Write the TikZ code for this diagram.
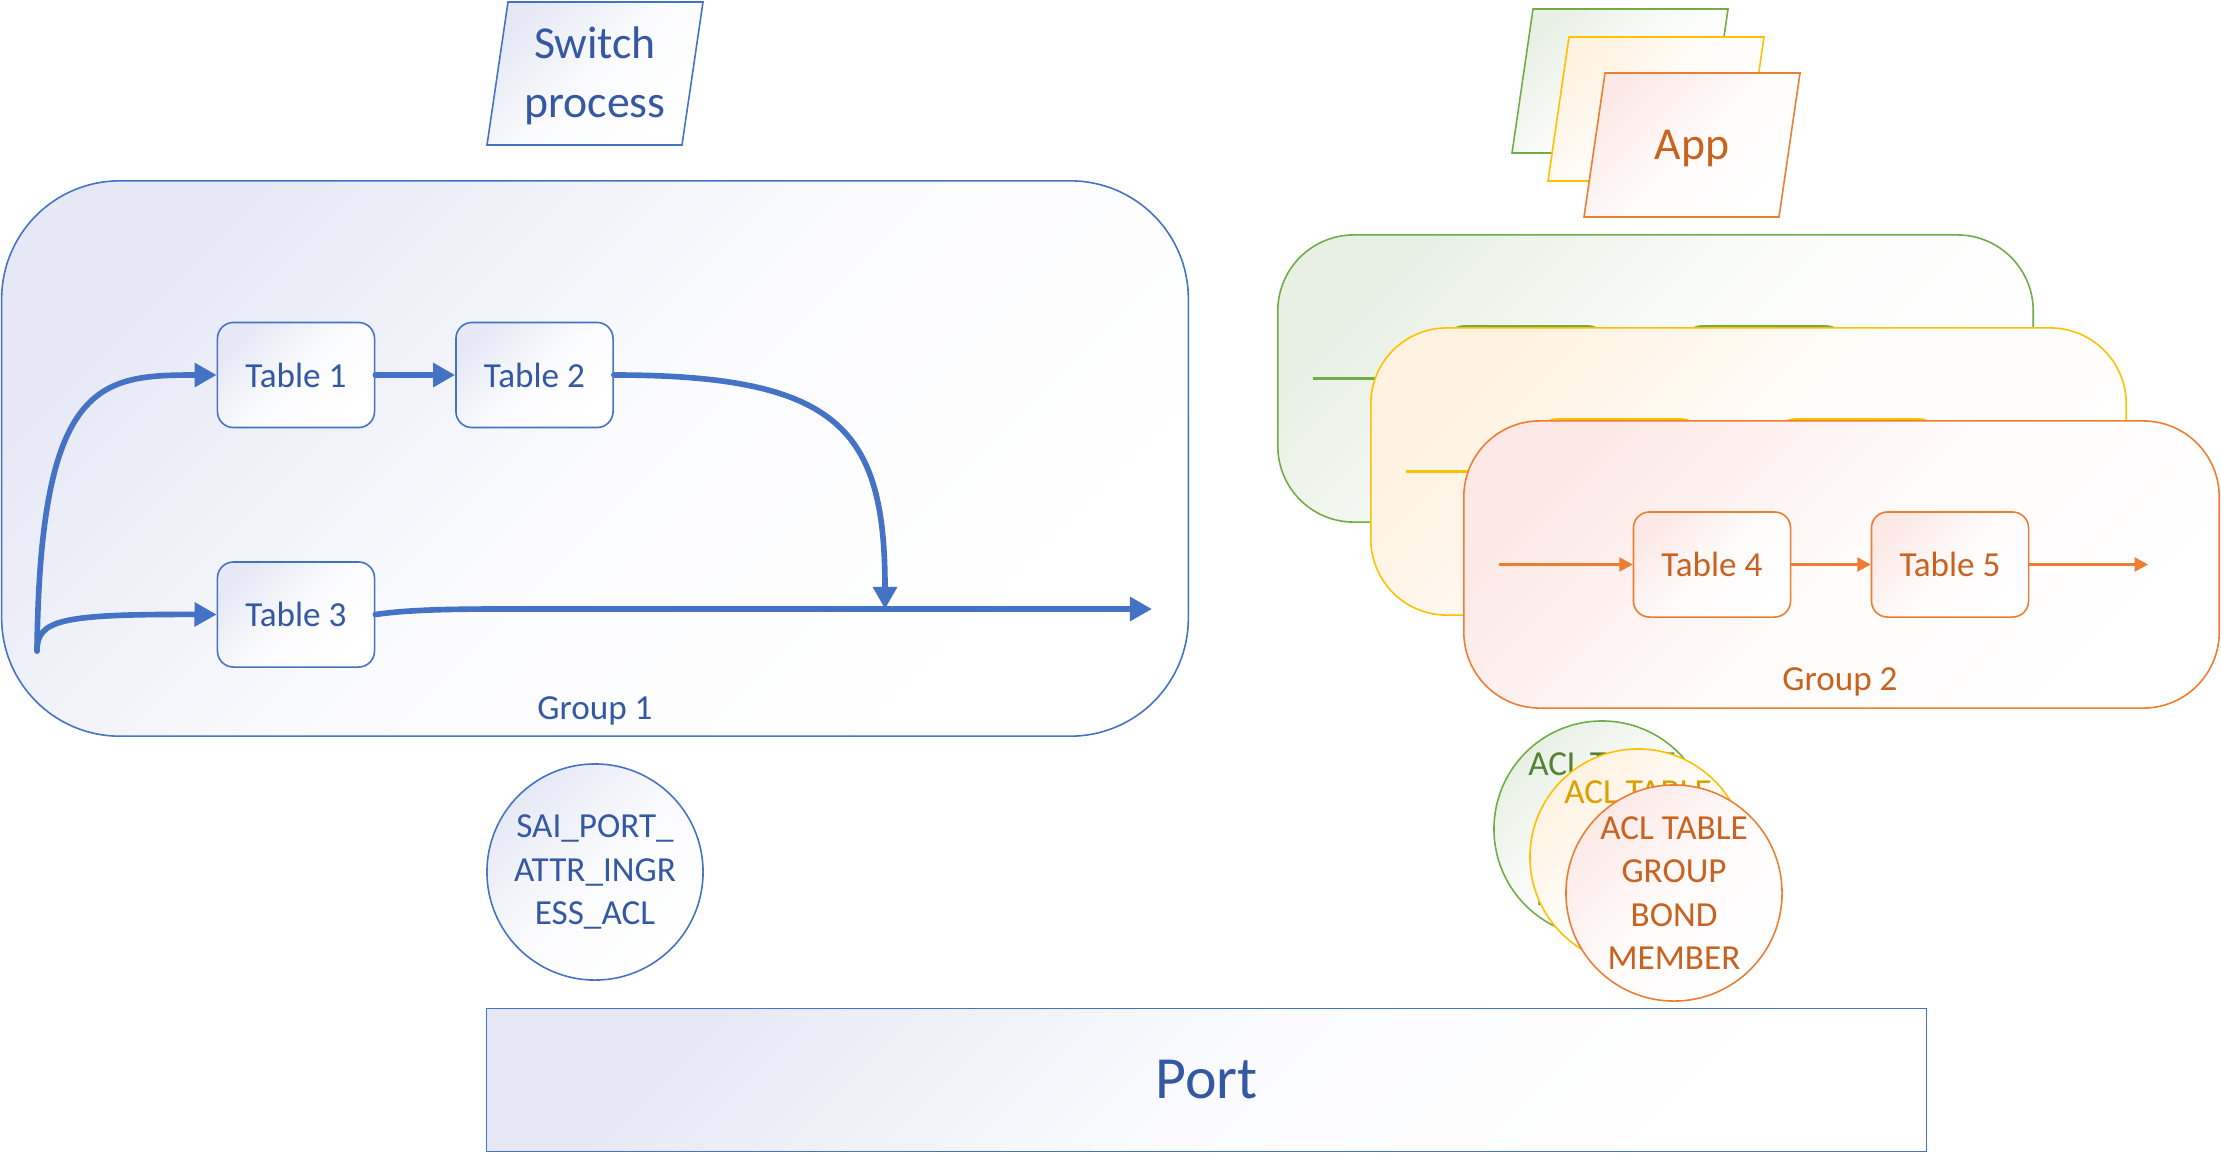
\documentclass[tikz,border=0pt]{standalone}
\usepackage{fontspec}
\setmainfont{Carlito}
\usepackage{tikz}
\usetikzlibrary{arrows.meta}

\definecolor{blueline}{HTML}{4472C4}
\definecolor{bluetext}{HTML}{3458A4}
\definecolor{bluetint}{HTML}{E6E9F5}
\definecolor{orangeline}{HTML}{ED7D31}
\definecolor{orangetext}{HTML}{C9621E}
\definecolor{orangetint}{HTML}{FCE9E6}
\definecolor{greenline}{HTML}{70AD47}
\definecolor{greentext}{HTML}{548235}
\definecolor{greentint}{HTML}{E8F0E4}
\definecolor{yellowline}{HTML}{FFC000}
\definecolor{yellowtext}{HTML}{D9A000}
\definecolor{yellowtint}{HTML}{FFF2E0}

\tikzset{tint/.style={top color=#1, bottom color=white, middle color=#1!18!white, shading angle=45}}
\tikzstyle{grp} = [draw, line width=0.45pt, inner sep=0pt]
\tikzstyle{tbl} = [draw, line width=0.45pt, rounded corners=0.16cm, minimum width=1.57cm,
   minimum height=1.05cm, inner sep=0pt, font=\fontsize{10}{12}\selectfont]
\tikzstyle{acl} = [draw, circle, line width=0.45pt, minimum size=2.16cm, inner sep=0pt,
   align=center, font=\fontsize{10}{12.3}\selectfont]
\tikzstyle{flowA} = [draw=blueline, line width=1.6pt, line cap=round,
   -{Triangle[length=6.3pt,width=6.6pt]}]
\tikzstyle{flowB} = [line width=0.6pt, -{Triangle[length=3.8pt,width=4pt]}]

\begin{document}
\begin{tikzpicture}[x=0.01cm, y=-0.01cm]
  \useasboundingbox (0,0) rectangle (2221,1154);
  % switch process side
  \node[grp, draw=blueline, tint=bluetint, minimum width=11.86cm, minimum height=5.55cm,
    rounded corners=1.18cm] (g1) at (595,458.5) {};
  \node[tbl, draw=blueline, tint=bluetint, text=bluetext] (t1) at (296,375) {Table 1};
  \node[tbl, draw=blueline, tint=bluetint, text=bluetext] (t2) at (534.5,375) {Table 2};
  \node[tbl, draw=blueline, tint=bluetint, text=bluetext] (t3) at (296,614.5) {Table 3};
  \node[text=bluetext, font=\fontsize{10}{12}\selectfont, anchor=base] (g1name) at (595,719) {Group 1};
  \coordinate (src) at (37,651);
  \coordinate (merge) at (885,609);
  \coordinate (sink) at (1152,609);
  \draw [flowA] (src) .. controls (40,380) and (100,375) .. (t1.west);
  \draw [flowA] (src) .. controls (37,620) and (60,614) .. (t3.west);
  \draw [flowA] (t1) -- (t2);
  \draw [flowA] (t2.east) .. controls (840,375) and (885,430) .. (merge);
  \draw [flowA] (t3.east) .. controls (400,611) and (430,609) .. (500,609) -- (sink);

  \path[draw=blueline, line width=0.45pt, tint=bluetint] (508,2) -- (703,2) -- (682,145) -- (487,145) -- cycle;
  \node[text=bluetext, font=\fontsize{13}{16.8}\selectfont, align=center] (sw) at (595,76) {Switch\\process};

  \node[acl, draw=blueline, tint=bluetint, text=bluetext] (sai) at (595,872) {SAI\_PORT\_\\ATTR\_INGR\\ESS\_ACL};
  \node[grp, draw=blueline, tint=bluetint, minimum width=14.39cm, minimum height=1.43cm,
    text=bluetext, font=\fontsize{17}{20}\selectfont] (port) at (1206.5,1080) {Port};

  % app side
  \path[draw=greenline, line width=0.45pt, tint=greentint] (1533,9) -- ++(195,0) -- ++(-21,144) -- ++(-195,0) -- cycle;
  \path[draw=yellowline, line width=0.45pt, tint=yellowtint] (1569,37) -- ++(195,0) -- ++(-21,144) -- ++(-195,0) -- cycle;
  \path[draw=orangeline, line width=0.45pt, tint=orangetint] (1605,73) -- ++(195,0) -- ++(-21,144) -- ++(-195,0) -- cycle;
  \node[text=orangetext, font=\fontsize{13}{16}\selectfont] (app) at (1692,149) {App};

  \node[grp, draw=greenline, tint=greentint, minimum width=7.55cm, minimum height=2.87cm,
    rounded corners=0.76cm] (g2a) at (1655.5,378.5) {};
  \node[tbl, draw=greenline, tint=greentint] (t4a) at (1526,378.5) {};
  \node[tbl, draw=greenline, tint=greentint] (t5a) at (1764,378.5) {};
  \coordinate (ina) at (1313,378.5);
  \draw [flowB, greenline] (ina) -- (t4a);

  \node[grp, draw=yellowline, tint=yellowtint, minimum width=7.55cm, minimum height=2.87cm,
    rounded corners=0.76cm] (g2b) at (1748.5,471.5) {};
  \node[tbl, draw=yellowline, tint=yellowtint] (t4b) at (1619,471.5) {};
  \node[tbl, draw=yellowline, tint=yellowtint] (t5b) at (1857,471.5) {};
  \coordinate (inb) at (1406,471.5);
  \draw [flowB, yellowline] (inb) -- (t4b);

  \node[grp, draw=orangeline, tint=orangetint, minimum width=7.55cm, minimum height=2.87cm,
    rounded corners=0.76cm] (g2) at (1841.5,564.5) {};
  \node[tbl, draw=orangeline, tint=orangetint, text=orangetext] (t4) at (1712,564.5) {Table 4};
  \node[tbl, draw=orangeline, tint=orangetint, text=orangetext] (t5) at (1950,564.5) {Table 5};
  \node[text=orangetext, font=\fontsize{10}{12}\selectfont, anchor=base] (g2name) at (1840,690) {Group 2};
  \coordinate (inc) at (1499,564.5);
  \coordinate (outc) at (2148,564.5);
  \draw [flowB, orangeline] (inc) -- (t4);
  \draw [flowB, orangeline] (t4) -- (t5);
  \draw [flowB, orangeline] (t5) -- (outc);

  \node[acl, draw=greenline, tint=greentint, text=greentext] (acla) at (1602,829) {ACL TABLE\\GROUP\\BOND\\MEMBER};
  \node[acl, draw=yellowline, tint=yellowtint, text=yellowtext] (aclb) at (1638,857) {ACL TABLE\\GROUP\\BOND\\MEMBER};
  \node[acl, draw=orangeline, tint=orangetint, text=orangetext] (aclc) at (1674,893) {ACL TABLE\\GROUP\\BOND\\MEMBER};
\end{tikzpicture}
\end{document}
